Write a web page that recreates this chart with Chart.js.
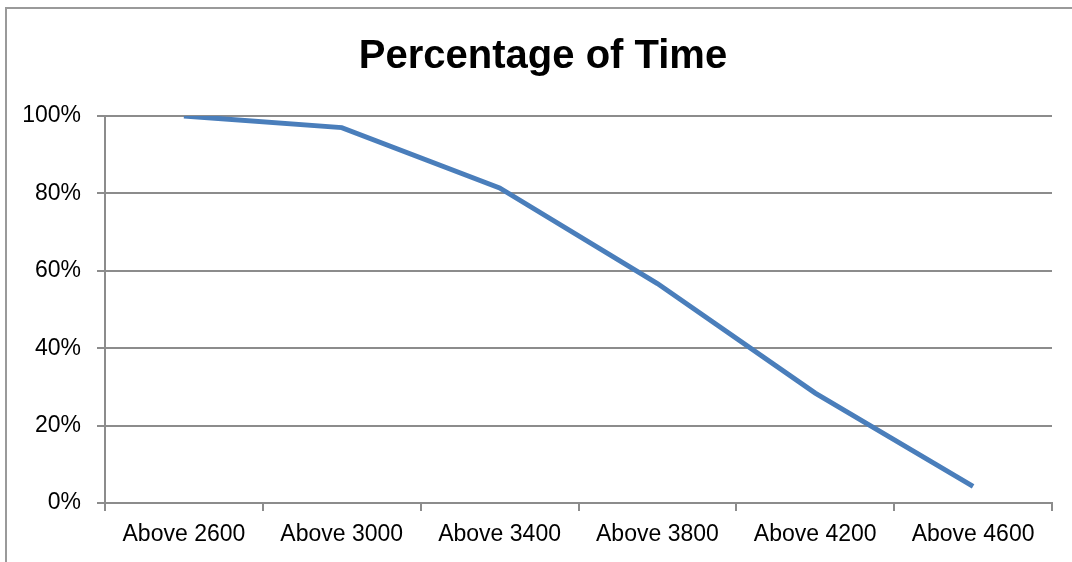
<!DOCTYPE html>
<html>
<head>
<meta charset="utf-8">
<script src="https://cdn.jsdelivr.net/npm/chart.js@4.4.1/dist/chart.umd.min.js"></script>
<style>
    html, body { margin: 0; padding: 0; background: #fff; }
    #wrap { position: relative; width: 1072px; height: 562px; overflow: hidden; }
    #frame { position: absolute; left: 5px; top: 7px; width: 1200px; height: 700px;
             border-left: 2px solid #9a9a9a; border-top: 2px solid #9a9a9a; }
    #chart { position: absolute; left: 0; top: 0; }
</style>
</head>
<body>
<div id="wrap">
    <div id="frame"></div>
    <canvas id="chart" width="1072" height="562"></canvas>
</div>
<script>
// chart data
const categories = ["Above 2600", "Above 3000", "Above 3400", "Above 3800", "Above 4200", "Above 4600"];
const percentTime = [1.0, 0.97, 0.814, 0.567, 0.284, 0.043];
const yTicks = [0, 0.2, 0.4, 0.6, 0.8, 1.0];

const fontFamily = "'Liberation Sans Narrow', 'Arial Narrow', 'Liberation Sans', Arial, sans-serif";
const gridGrey = "#8c8c8c";

// nudge the title box a little right, the original title is not centred on the canvas
const titleNudge = {
    id: 'titleNudge',
    afterLayout(chart) {
        if (chart.titleBlock) chart.titleBlock.left += 34;
    }
};

const ctx = document.getElementById("chart").getContext("2d");

const chart = new Chart(ctx, {
    type: 'line',
    data: {
        labels: categories,
        datasets: [{
            label: 'Percentage of Time',
            data: percentTime,
            borderColor: '#4a7ebb',
            borderWidth: 5,
            pointRadius: 0,
            tension: 0,
            fill: false
        }]
    },
    plugins: [titleNudge],
    options: {
        responsive: false,
        animation: false,
        layout: { padding: { left: 0, right: 20, top: 0, bottom: 0 } },
        plugins: {
            legend: { display: false },
            tooltip: { enabled: false },
            title: {
                display: true,
                text: 'Percentage of Time',
                color: '#000',
                font: { family: fontFamily, size: 40, weight: 'bold' },
                padding: { top: 33, bottom: 35 }
            }
        },
        scales: {
            x: {
                type: 'category',
                offset: true,
                grid: {
                    offset: true,
                    drawOnChartArea: false,
                    drawTicks: true,
                    tickLength: 8,
                    color: gridGrey,
                    lineWidth: 2
                },
                border: { color: gridGrey, width: 2 },
                ticks: {
                    color: '#000',
                    font: { family: fontFamily, size: 23 },
                    padding: 10,
                    maxRotation: 0
                },
                afterFit: (scale) => { scale.height = 59; }
            },
            y: {
                min: 0,
                max: 1,
                afterBuildTicks: (scale) => { scale.ticks = yTicks.map(v => ({ value: v })); },
                grid: {
                    color: gridGrey,
                    lineWidth: 2,
                    tickLength: 8
                },
                border: { color: gridGrey, width: 2 },
                ticks: {
                    color: '#000',
                    font: { family: fontFamily, size: 23 },
                    padding: 16,
                    callback: (v) => Math.round(v * 100) + '%'
                },
                afterFit: (scale) => { scale.width = 105; }
            }
        }
    }
});
</script>
</body>
</html>
